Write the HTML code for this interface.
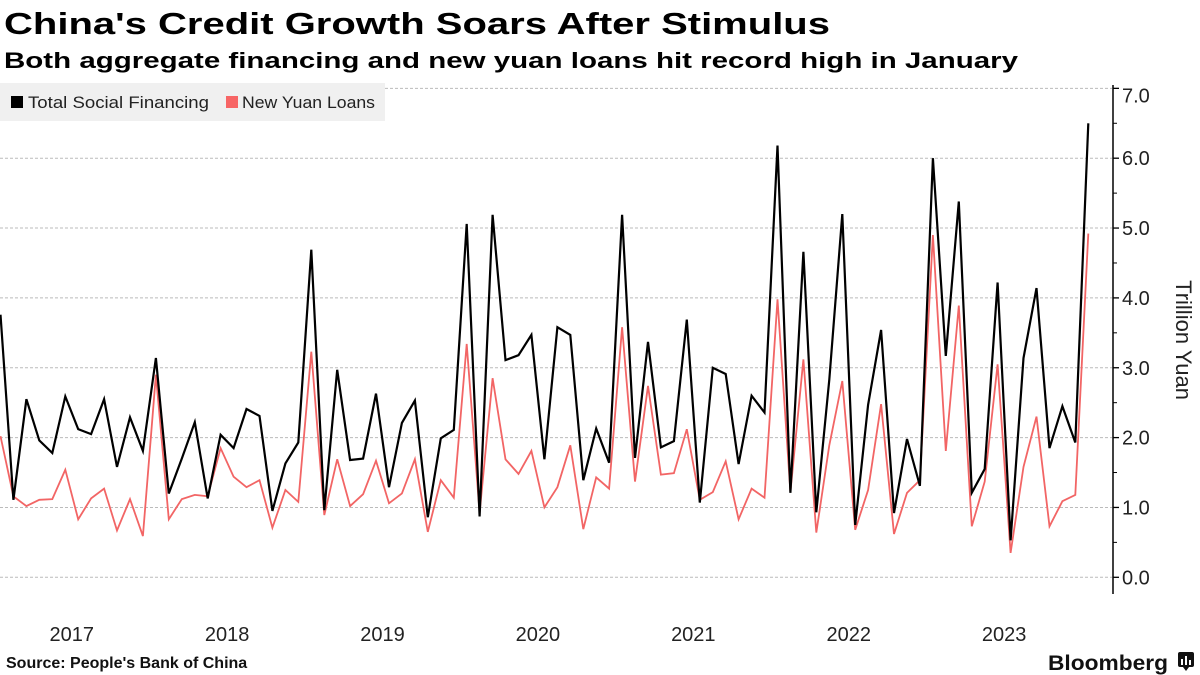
<!DOCTYPE html>
<html><head><meta charset="utf-8"><style>
html,body{margin:0;padding:0;background:#fff;}
svg{display:block;font-family:"Liberation Sans",sans-serif;}
</style></head><body>
<svg id="chart" width="1200" height="675" viewBox="0 0 1200 675">
<text x="4" y="34" font-size="31" font-weight="bold" textLength="826" lengthAdjust="spacingAndGlyphs">China's Credit Growth Soars After Stimulus</text>
<text x="4" y="68" font-size="22" font-weight="bold" textLength="1014" lengthAdjust="spacingAndGlyphs">Both aggregate financing and new yuan loans hit record high in January</text>
<g id="grid"></g>
<g id="plot"></g>
<g>
<rect x="0" y="83" width="385" height="38" fill="#f0f0f0"/>
<g><rect x="11" y="96" width="12" height="12" fill="#000"/><text x="28" y="108" font-size="17" fill="#222" textLength="181" lengthAdjust="spacingAndGlyphs">Total Social Financing</text></g>
<g><rect x="226" y="96" width="12" height="12" fill="#f76565"/><text x="242" y="108" font-size="17" fill="#222" textLength="133" lengthAdjust="spacingAndGlyphs">New Yuan Loans</text></g>
</g>
<g id="yaxis"></g>
<text transform="translate(1176,340) rotate(90)" text-anchor="middle" font-size="22" fill="#222">Trillion Yuan</text>
<g id="xaxis"></g>
<text x="6" y="668" font-size="16" font-weight="bold" fill="#111">Source: People's Bank of China</text>
<text x="1048" y="670" font-size="21" font-weight="bold" fill="#111" textLength="120" lengthAdjust="spacingAndGlyphs">Bloomberg</text>
<g><rect x="1178" y="652" width="16" height="15" rx="2" fill="#111"/><path d="M1183 667 l3 4 l3 -4z" fill="#111"/><rect x="1181" y="659" width="2" height="6" fill="#fff"/><rect x="1185" y="656" width="2" height="9" fill="#fff"/><rect x="1189" y="660" width="2" height="5" fill="#fff"/></g>
</svg>
<script>
const tsf = [3.76,1.11,2.55,1.96,1.78,2.59,2.12,2.05,2.55,1.58,2.29,1.81,
3.14,1.20,1.70,2.22,1.13,2.04,1.85,2.41,2.31,0.95,1.63,1.93,
4.69,0.96,2.97,1.68,1.70,2.63,1.29,2.21,2.53,0.86,1.99,2.11,
5.06,0.87,5.19,3.11,3.18,3.47,1.69,3.58,3.47,1.39,2.13,1.64,
5.19,1.71,3.37,1.86,1.95,3.69,1.07,3.00,2.91,1.62,2.60,2.36,
6.18,1.21,4.66,0.93,2.83,5.20,0.75,2.47,3.54,0.92,1.98,1.31,
6.00,3.17,5.38,1.21,1.55,4.22,0.53,3.14,4.14,1.85,2.45,1.93,
6.50];
const loans = [2.02,1.16,1.02,1.11,1.12,1.54,0.83,1.13,1.27,0.67,1.12,0.59,
2.90,0.83,1.12,1.18,1.16,1.85,1.44,1.29,1.39,0.71,1.25,1.08,
3.23,0.89,1.69,1.02,1.19,1.67,1.06,1.20,1.69,0.65,1.39,1.14,
3.34,0.92,2.85,1.69,1.48,1.81,1.00,1.29,1.89,0.69,1.43,1.27,
3.58,1.37,2.74,1.47,1.49,2.12,1.11,1.22,1.66,0.83,1.27,1.14,
3.98,1.22,3.12,0.64,1.89,2.81,0.68,1.25,2.48,0.62,1.21,1.39,
4.90,1.81,3.89,0.73,1.37,3.05,0.35,1.58,2.30,0.73,1.09,1.18,
4.92];
const yTicks = [0,1,2,3,4,5,6,7];
const yearLabels = ["2017","2018","2019","2020","2021","2022","2023"];

const NS = "http://www.w3.org/2000/svg";
const xs = i => 0.5 + 12.95 * i;
const ys = v => 577.3 - 69.85 * v;
function mk(tag, attrs, parent){const e=document.createElementNS(NS,tag);for(const k in attrs)e.setAttribute(k,attrs[k]);parent.appendChild(e);return e;}

const grid = document.getElementById('grid');
const yaxis = document.getElementById('yaxis');
yTicks.forEach(t=>{
  const g = mk('line',{x1:0,x2:1112,y1:ys(t),y2:ys(t),stroke:'#bbb','stroke-width':1,'stroke-dasharray':'3,2'},grid);
  
  
  const tk = mk('line',{x1:1113,x2:1119,y1:ys(t),y2:ys(t),stroke:'#000','stroke-width':1.3},yaxis);
  
  
  const ly = t===7 ? ys(t)+14 : ys(t)+7;
  const lb = mk('text',{x:1122,y:ly,'font-size':20,fill:'#222'},yaxis);
  lb.textContent = t.toFixed(1);
  
  
  if(t<7){
    const mt = mk('line',{x1:1113,x2:1117,y1:ys(t+0.5),y2:ys(t+0.5),stroke:'#000','stroke-width':1},yaxis);
    
    
  }
});
const ax = mk('line',{x1:1113,x2:1113,y1:85,y2:594,stroke:'#000','stroke-width':1.5},yaxis);



const plot = document.getElementById('plot');
function line(arr,color,w,name){
  const d = arr.map((v,i)=>(i?'L':'M')+xs(i).toFixed(1)+' '+ys(v).toFixed(1)).join(' ');
  const p = mk('path',{d:d,fill:'none',stroke:color,'stroke-width':w,'stroke-linejoin':'miter'},plot);
  
  
}
line(loans,'#f26565',1.8,'new-yuan-loans-line');
line(tsf,'#000',2.2,'total-social-financing-line');

const xaxis = document.getElementById('xaxis');
yearLabels.forEach((y,k)=>{
  const t = mk('text',{x:xs(12*k+5.5),y:641,'text-anchor':'middle','font-size':20,fill:'#222'},xaxis);
  t.textContent = y;
  
  
});
</script>
</body></html>
